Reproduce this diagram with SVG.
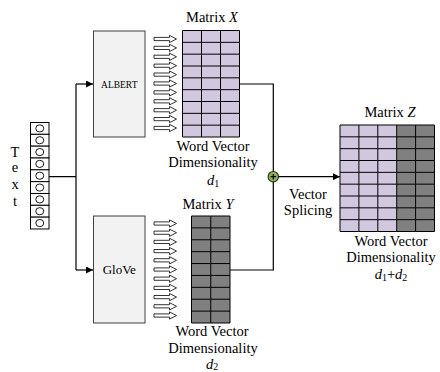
<svg xmlns="http://www.w3.org/2000/svg" xmlns:xlink="http://www.w3.org/1999/xlink" width="440" height="372" viewBox="0 0 440 372">
  <style>
    .t { font-family: "Liberation Serif", "Times New Roman", serif; font-size: 14.5px; fill: #000; text-anchor: middle; }
    .it { font-style: italic; }
    .box { fill: #f2f2f2; stroke: #404040; stroke-width: 1; }
    .lav { fill: #d1c7df; }
    .gry { fill: #808080; }
    .grid { stroke: #000; stroke-width: 1; fill: none; }
    .wire { stroke: #000; stroke-width: 1.2; fill: none; }
  </style>
  <defs>
    <marker id="arr" viewBox="0 0 10 10" refX="10" refY="5" markerWidth="7" markerHeight="7" orient="auto" markerUnits="userSpaceOnUse">
      <path d="M0,0 L10,5 L0,10 z" fill="#000"/>
    </marker>
    <!-- hollow block arrow used for the token streams -->
    <path id="hollow" d="M0,-1.6 H15.5 V-3.6 L22.5,0 L15.5,3.6 V1.6 H0 z" fill="#fff" stroke="#000" stroke-width="0.8"/>
    <g id="cell">
      <rect x="0" y="0" width="18.5" height="11.83" fill="#fff" stroke="#000" stroke-width="1"/>
      <ellipse cx="9.25" cy="5.9" rx="4" ry="3.6" fill="#fff" stroke="#000" stroke-width="0.9"/>
    </g>
  </defs>

  <!-- input text column -->
  <g id="text-input">
    <use xlink:href="#cell" x="30.5" y="122.5"/>
    <use xlink:href="#cell" x="30.5" y="134.33"/>
    <use xlink:href="#cell" x="30.5" y="146.16"/>
    <use xlink:href="#cell" x="30.5" y="157.99"/>
    <use xlink:href="#cell" x="30.5" y="169.82"/>
    <use xlink:href="#cell" x="30.5" y="181.65"/>
    <use xlink:href="#cell" x="30.5" y="193.48"/>
    <use xlink:href="#cell" x="30.5" y="205.31"/>
    <use xlink:href="#cell" x="30.5" y="217.14"/>
    <text class="t" x="15" y="156.5">T</text>
    <text class="t" x="15" y="172">e</text>
    <text class="t" x="15" y="189">x</text>
    <text class="t" x="15" y="205.5">t</text>
  </g>

  <!-- ALBERT encoder -->
  <g id="albert">
    <rect class="box" x="93.5" y="31" width="51.5" height="106"/>
    <text class="t" x="119.25" y="87.5" style="font-size:9.5px">ALBERT</text>
  </g>

  <!-- GloVe encoder -->
  <g id="glove">
    <rect class="box" x="93.5" y="216" width="51.5" height="107"/>
    <text class="t" x="119.25" y="274" style="font-size:13px">GloVe</text>
  </g>

  <!-- token streams into the matrices -->
  <g id="stream-x">
    <use xlink:href="#hollow" x="154" y="39"/>
    <use xlink:href="#hollow" x="154" y="47.9"/>
    <use xlink:href="#hollow" x="154" y="56.8"/>
    <use xlink:href="#hollow" x="154" y="65.7"/>
    <use xlink:href="#hollow" x="154" y="74.6"/>
    <use xlink:href="#hollow" x="154" y="83.5"/>
    <use xlink:href="#hollow" x="154" y="92.4"/>
    <use xlink:href="#hollow" x="154" y="101.3"/>
    <use xlink:href="#hollow" x="154" y="110.2"/>
    <use xlink:href="#hollow" x="154" y="119.1"/>
    <use xlink:href="#hollow" x="154" y="128"/>
  </g>
  <g id="stream-y">
    <use xlink:href="#hollow" x="154" y="223.5"/>
    <use xlink:href="#hollow" x="154" y="232.7"/>
    <use xlink:href="#hollow" x="154" y="241.9"/>
    <use xlink:href="#hollow" x="154" y="251.1"/>
    <use xlink:href="#hollow" x="154" y="260.3"/>
    <use xlink:href="#hollow" x="154" y="269.5"/>
    <use xlink:href="#hollow" x="154" y="278.7"/>
    <use xlink:href="#hollow" x="154" y="287.9"/>
    <use xlink:href="#hollow" x="154" y="297.1"/>
    <use xlink:href="#hollow" x="154" y="306.3"/>
    <use xlink:href="#hollow" x="154" y="315.5"/>
  </g>

  <!-- Matrix X: 3 columns x 9 rows -->
  <g id="matrix-x">
    <text class="t" x="212" y="21.5">Matrix <tspan class="it">X</tspan></text>
    <rect class="lav" x="182.5" y="30.5" width="57" height="106.5"/>
    <path class="grid" d="M182.5,30.5 h57 v106.5 h-57 z
      M201.5,30.5 v106.5 M220.5,30.5 v106.5
      M182.5,42.33 h57 M182.5,54.17 h57 M182.5,66 h57 M182.5,77.83 h57
      M182.5,89.67 h57 M182.5,101.5 h57 M182.5,113.33 h57 M182.5,125.17 h57"/>
    <text class="t" x="213" y="151">Word Vector</text>
    <text class="t" x="213" y="167">Dimensionality</text>
    <text class="t" x="213" y="184.5"><tspan class="it">d</tspan><tspan style="font-size:10px" dy="2">1</tspan></text>
  </g>

  <!-- Matrix Y: 2 columns x 9 rows -->
  <g id="matrix-y">
    <text class="t" x="208" y="208.5">Matrix <tspan class="it">Y</tspan></text>
    <rect class="gry" x="191.5" y="216" width="38.5" height="107"/>
    <path class="grid" d="M191.5,216 h38.5 v107 h-38.5 z
      M210.75,216 v107
      M191.5,227.89 h38.5 M191.5,239.78 h38.5 M191.5,251.67 h38.5 M191.5,263.56 h38.5
      M191.5,275.44 h38.5 M191.5,287.33 h38.5 M191.5,299.22 h38.5 M191.5,311.11 h38.5"/>
    <text class="t" x="212" y="336">Word Vector</text>
    <text class="t" x="213" y="352.5">Dimensionality</text>
    <text class="t" x="212" y="368.5"><tspan class="it">d</tspan><tspan style="font-size:10px" dy="1.5">2</tspan></text>
  </g>

  <!-- Matrix Z: 3 lavender + 2 gray columns x 9 rows -->
  <g id="matrix-z">
    <text class="t" x="390" y="117">Matrix <tspan class="it">Z</tspan></text>
    <rect class="lav" x="340" y="125" width="56.7" height="106.5"/>
    <rect class="gry" x="396.7" y="125" width="37.8" height="106.5"/>
    <path class="grid" d="M340,125 h94.5 v106.5 h-94.5 z
      M358.9,125 v106.5 M377.8,125 v106.5 M396.7,125 v106.5 M415.6,125 v106.5
      M340,136.83 h94.5 M340,148.67 h94.5 M340,160.5 h94.5 M340,172.33 h94.5
      M340,184.17 h94.5 M340,196 h94.5 M340,207.83 h94.5 M340,219.67 h94.5"/>
    <text class="t" x="391" y="246">Word Vector</text>
    <text class="t" x="391" y="262">Dimensionality</text>
    <text class="t" x="391" y="279"><tspan class="it">d</tspan><tspan style="font-size:10px" dy="2">1</tspan><tspan dy="-2">+</tspan><tspan class="it">d</tspan><tspan style="font-size:10px" dy="2">2</tspan></text>
  </g>

  <!-- splice operator -->
  <g id="splice">
    <circle cx="273.3" cy="176.7" r="5.2" fill="#8cb44b" stroke="#333" stroke-width="1.2"/>
    <path d="M270.6,176.7 h5.4 M273.3,174 v5.4" stroke="#000" stroke-width="1.2"/>
    <text class="t" x="308" y="199">Vector</text>
    <text class="t" x="308" y="215">Splicing</text>
  </g>

  <!-- connectors -->
  <g id="connectors">
    <path class="wire" d="M49,176.7 H76 M76,84 V270"/>
    <path class="wire" d="M76,84 H93" marker-end="url(#arr)"/>
    <path class="wire" d="M76,270 H93" marker-end="url(#arr)"/>
    <path class="wire" d="M239.5,84 H273.3 V171.5 M273.3,181.9 V270 H230"/>
    <path class="wire" d="M278.5,176.7 H340" marker-end="url(#arr)"/>
  </g>
</svg>
